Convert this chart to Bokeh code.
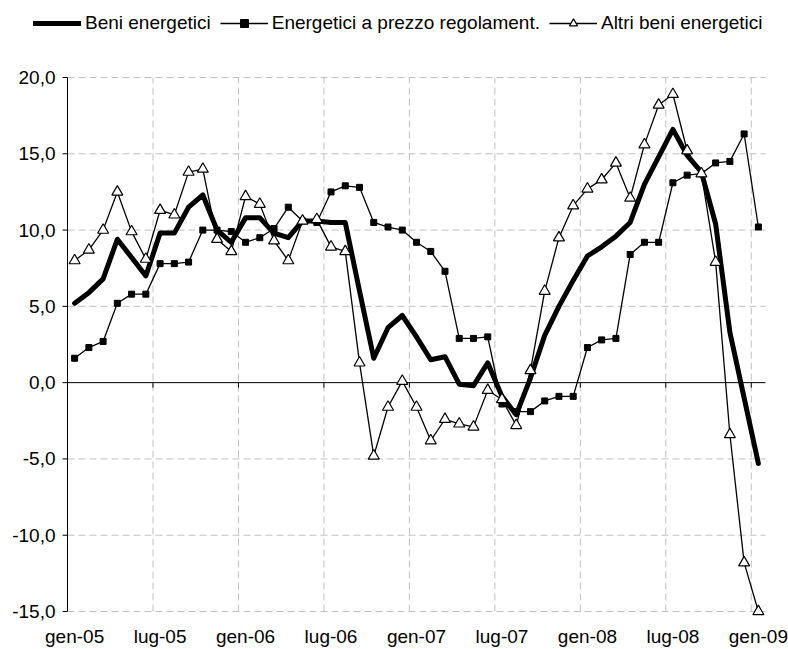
from bokeh.plotting import figure
from bokeh.models import Legend, LegendItem, Range1d
from bokeh.core.properties import value
from bokeh.embed import file_html
from bokeh.resources import INLINE

# ---- data ----
month_names = ["gen", "feb", "mar", "apr", "mag", "giu", "lug", "ago", "set", "ott", "nov", "dic"]
years = ["05", "06", "07", "08", "09"]
months = [f"{m}-{y}" for y in years for m in month_names][:49]

beni = [5.2, 5.9, 6.8, 9.4, 8.2, 7.0, 9.8, 9.8, 11.5, 12.3, 10.0, 9.2,
        10.8, 10.8, 9.8, 9.5, 10.6, 10.6, 10.5, 10.5, 6.0, 1.6, 3.6, 4.4,
        3.0, 1.5, 1.7, -0.1, -0.2, 1.3, -0.9, -2.1, 0.3, 3.1, 5.0, 6.7,
        8.3, 8.9, 9.6, 10.5, 13.0, 14.8, 16.6, 14.9, 13.8, 10.4, 3.3, -1.0,
        -5.3]

regolamentati = [1.6, 2.3, 2.7, 5.2, 5.8, 5.8, 7.8, 7.8, 7.9, 10.0, 10.0, 9.9,
                 9.2, 9.5, 10.1, 11.5, 10.6, 10.5, 12.5, 12.9, 12.8, 10.5, 10.2, 10.0,
                 9.2, 8.6, 7.3, 2.9, 2.9, 3.0, -1.4, -1.9, -1.9, -1.2, -0.9, -0.9,
                 2.3, 2.8, 2.9, 8.4, 9.2, 9.2, 13.1, 13.6, 13.7, 14.4, 14.5, 16.3,
                 10.2]

altri = [8.0, 8.7, 10.0, 12.5, 9.9, 8.1, 11.3, 11.0, 13.8, 14.0, 9.4, 8.6,
         12.2, 11.7, 9.3, 8.0, 10.6, 10.7, 8.9, 8.6, 1.3, -4.8, -1.6, 0.1,
         -1.6, -3.8, -2.4, -2.7, -2.9, -0.5, -1.1, -2.8, 0.8, 6.0, 9.5, 11.6,
         12.7, 13.3, 14.4, 12.1, 15.6, 18.2, 18.9, 15.2, 13.7, 7.9, -3.4, -11.8,
         -15.0]

series_labels = ["Beni energetici", "Energetici a prezzo regolament.", "Altri beni energetici"]
y_ticks = [-15, -10, -5, 0, 5, 10, 15, 20]
y_labels = [f"{t:.1f}".replace(".", ",") for t in y_ticks]
label_step = 6

# ---- layout (pixels) ----
FONT = "Liberation Sans"
W, H = 788, 649
PLOT_L, PLOT_R, PLOT_T, PLOT_B = 67, 765, 77, 611   # visible plot area inside the full-canvas frame
n = len(months)
x = list(range(n))
ymin, ymax = min(y_ticks), max(y_ticks)

pxx = (PLOT_R - PLOT_L) / n                 # px per category
pxy = (PLOT_B - PLOT_T) / (ymax - ymin)     # px per y unit
x_start = -0.5 - PLOT_L / pxx
x_end = n - 0.5 + (W - PLOT_R) / pxx
y_start = ymin - (H - PLOT_B) / pxy
y_end = ymax + PLOT_T / pxy

thick = dict(line_width=5, line_color="black", line_join="round", line_cap="round")
thin = dict(line_width=1.3, line_color="black")
sq = dict(marker="square", size=6, fill_color="black", line_color="black")
tri = dict(marker="triangle", size=11, fill_color="white", line_color="black", line_width=1.2)

p = figure(width=W, height=H, output_backend="svg", toolbar_location=None,
           x_range=Range1d(x_start, x_end), y_range=Range1d(y_start, y_end),
           min_border_left=0, min_border_right=0, min_border_top=0, min_border_bottom=0,
           x_axis_type=None, y_axis_type=None)
p.outline_line_color = None
p.background_fill_color = "white"
p.border_fill_color = "white"
p.grid.visible = False

grid_color = "#C0C0C0"
left_edge, right_edge = -0.5, n - 0.5
# horizontal grid lines
hy = [t for t in y_ticks if t != 0]
p.segment(x0=[left_edge] * len(hy), y0=hy, x1=[right_edge] * len(hy), y1=hy,
          line_color=grid_color, line_width=1, line_dash="7 4")
# vertical grid lines at category boundaries every 6 months
bounds = [i - 0.5 for i in range(label_step, n, label_step)]
p.segment(x0=bounds, y0=[ymin] * len(bounds), x1=bounds, y1=[ymax] * len(bounds),
          line_color=grid_color, line_width=1, line_dash="7 4")

# value axis: line, ticks, labels
tick_dx = 5 / pxx
p.segment(x0=[left_edge], y0=[ymin], x1=[left_edge], y1=[ymax], line_color="black", line_width=1)
p.segment(x0=[left_edge - tick_dx] * len(y_ticks), y0=y_ticks, x1=[left_edge] * len(y_ticks), y1=y_ticks,
          line_color="black", line_width=1)
p.text(x=[left_edge] * len(y_ticks), y=y_ticks, text=y_labels, x_offset=-12,
       text_align="right", text_baseline="middle", text_font=value(FONT),
       text_font_size=value("19px"), text_color="black")

# category axis at zero with tick marks
tick_dy = 5 / pxy
p.segment(x0=[left_edge], y0=[0], x1=[right_edge], y1=[0], line_color="black", line_width=1)
tick_x = [i - 0.5 for i in range(0, n, label_step)]
p.segment(x0=tick_x, y0=[0] * len(tick_x), x1=tick_x, y1=[-tick_dy] * len(tick_x),
          line_color="black", line_width=1)

# month labels (low position, below the plot area)
label_idx = list(range(0, n, label_step))
p.text(x=label_idx, y=[ymin] * len(label_idx), text=[months[i] for i in label_idx], y_offset=25,
       text_align="center", text_baseline="alphabetic", text_font=value(FONT),
       text_font_size=value("19px"), text_color="black")

# series
r1 = p.line(x, beni, **thick)
r2l = p.line(x, regolamentati, **thin)
r2s = p.scatter(x, regolamentati, **sq)
r3l = p.line(x, altri, **thin)
r3s = p.scatter(x, altri, **tri)

LEG_H = 20
legend = Legend(items=[LegendItem(label=series_labels[0], renderers=[r1]),
                       LegendItem(label=series_labels[1], renderers=[r2l, r2s]),
                       LegendItem(label=series_labels[2], renderers=[r3l, r3s])],
                orientation="horizontal",
                glyph_width=48, glyph_height=LEG_H, label_height=LEG_H, label_standoff=4, spacing=9,
                padding=0, margin=0, border_line_color=None, background_fill_alpha=0,
                label_text_font=FONT, label_text_font_size="19px", label_text_color="black")
# legend box: left edge x=33, bottom edge y=34 (location measured from frame bottom-left)
legend.location = (33, H - 34)
p.add_layout(legend)

open("out.html", "w").write(file_html(p, INLINE))
